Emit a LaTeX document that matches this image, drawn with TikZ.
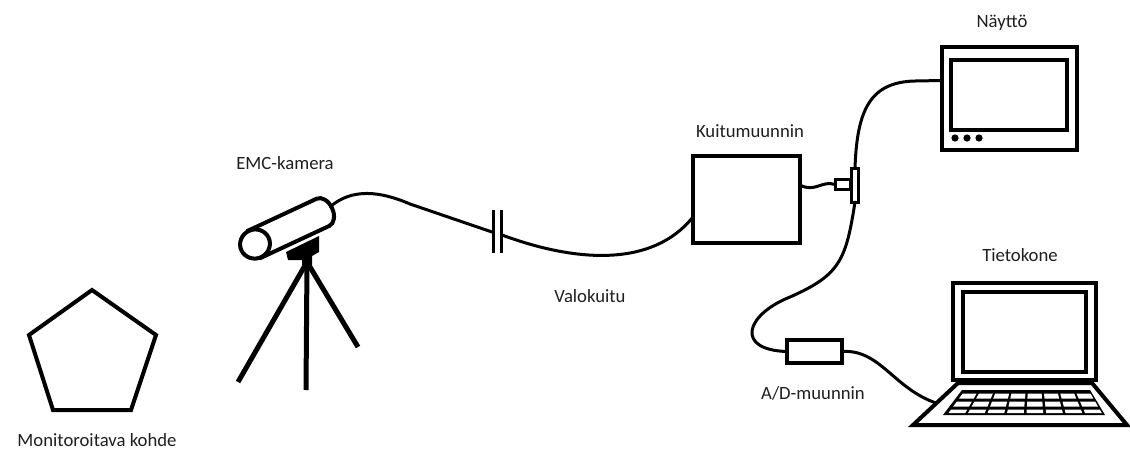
\documentclass[tikz,border=0pt]{standalone}
\usepackage{fontspec}
\setmainfont{Carlito}
\usetikzlibrary{calc}
\begin{document}
\begin{tikzpicture}[x=1pt,y=-1pt,
  outline/.style={line width=4pt, line join=miter},
  cable/.style={line width=3pt, line cap=round},
  device/.style={draw, line width=3.6pt, fill=white, inner sep=0pt, outer sep=0pt},
  lbl/.style={font=\fontsize{18.7}{22}\selectfont, inner sep=0pt, text=black!88},
]
\useasboundingbox[fill=white] (0,0) rectangle (1130,451);

% monitored object
\draw[outline] (92,290) -- (156,335) -- (131,410) -- (53,410) -- (29,335) -- cycle;
\node[lbl] (tobj) at (97,440) {Monitoroitava kohde};

% tripod
\coordinate (apex) at (307,262);
\draw[line width=5pt] (apex) -- (238,382);
\draw[line width=5pt] (apex) -- (306,390);
\draw[line width=5pt] (apex) -- (358,347);
% mount block
\fill (286,252) -- (319,236) -- (319,252) -- (312,256) -- (312,265)
      -- (302,265) -- (302,260) -- (288,260) -- cycle;

% camera body
\begin{scope}[shift={(255,244)}, rotate=25]
  \draw[outline, fill=white] (0,-15) -- (75,-15)
      arc[start angle=90, end angle=-90, x radius=10, y radius=-15]
      -- (0,15) -- cycle;
  \draw[outline, fill=white] (0,0) ellipse[x radius=15, y radius=14.5];
  \coordinate (camback) at (84,-2);
\end{scope}
\node[lbl] (tcam) at (285,163) {EMC-kamera};

% fibre coupling
\coordinate (fibL) at (492,232);
\coordinate (fibR) at (502,235);
\draw[line width=3pt] (493,210) -- (493,253);
\draw[line width=3pt] (501,210) -- (501,253);
\draw[cable] (camback) .. controls (352,188) and (380,191) .. (410,204) -- (fibL);

% fibre converter
\node[device, minimum width=107, minimum height=87] (conv) at (746.5,199.5) {};
\node[lbl] (tconv) at (750,131) {Kuitumuunnin};
\draw[cable] (fibR) .. controls (575,262) and (652,268) .. ($(conv.west)+(0,17.5)$);
\node[lbl] (tfib) at (590,296) {Valokuitu};

% plug and splitter
\node[device, line width=3pt, minimum width=15, minimum height=10] (plug) at (842.5,184.5) {};
\node[device, line width=3pt, minimum width=7, minimum height=34] (jack) at (855,185) {};
\draw[cable] ($(conv.east)+(0,-14.5)$) .. controls (815,193) and (822,180) .. (plug.west);

% monitor
\node[device, minimum width=135, minimum height=103] (mon) at (1009.5,98.5) {};
\draw[line width=3.6pt] (951,60) rectangle (1067,130);
\foreach \dx in {955,967,979} \fill (\dx,138) circle[radius=3.6];
\node[lbl] (tmon) at (1002,23) {Näyttö};
\draw[cable] (jack.north) .. controls (857,110) and (870,82) .. (915,81) -- ($(mon.west)+(0,-18)$);

% A/D converter
\node[device, line width=3.5pt, minimum width=55, minimum height=23] (ad) at (814.5,351.5) {};
\node[lbl] (tad) at (813,393) {A/D-muunnin};
\draw[cable] (jack.south) .. controls (846,260) and (840,275) .. (790,297)
      .. controls (745,315) and (735,350) .. (ad.west);

% laptop
\draw[outline] (958,383) -- (1092,383) -- (1127,425) -- (913,425) -- cycle;
\fill (962,390) -- (1090,390) -- (1105,415) -- (943,415) -- cycle;
\foreach \va/\vb in {0.14/0.34, 0.46/0.66, 0.78/0.92} {
  \foreach \c in {0,...,7} {
    \pgfmathsetmacro\ua{0.025+\c*0.1225}
    \pgfmathsetmacro\ub{\ua+0.105}
    \fill[white] ({962-19*\va+\ua*(128+34*\va)},{390+25*\va})
              -- ({962-19*\va+\ub*(128+34*\va)},{390+25*\va})
              -- ({962-19*\vb+\ub*(128+34*\vb)},{390+25*\vb})
              -- ({962-19*\vb+\ua*(128+34*\vb)},{390+25*\vb}) -- cycle;
  }
}
\node[device, minimum width=143, minimum height=97] (lap) at (1024.5,331.5) {};
\draw[line width=3.6pt] (963,292) rectangle (1086,372);
\node[lbl] (tlap) at (1020,255) {Tietokone};
\coordinate (lapin) at (936,403);
\draw[cable] (ad.east) .. controls (880,349) and (893,388) .. (lapin);
\end{tikzpicture}
\end{document}
